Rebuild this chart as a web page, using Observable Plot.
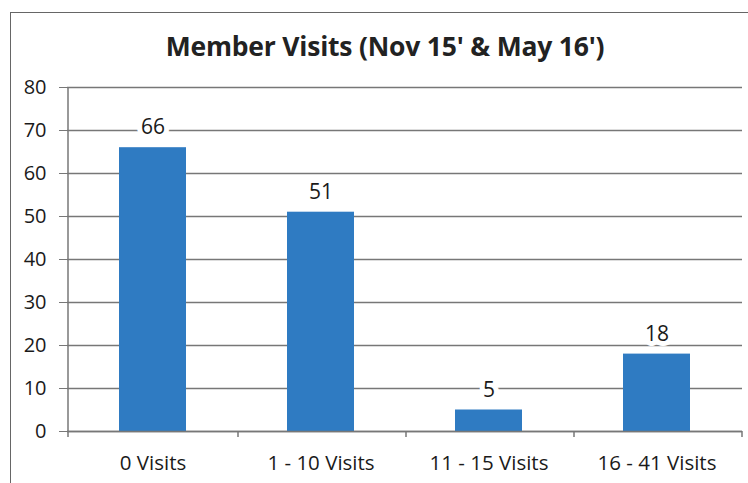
<!DOCTYPE html>
<html>
<head>
<meta charset="utf-8">
<script src="https://cdn.jsdelivr.net/npm/d3@7"></script>
<script src="https://cdn.jsdelivr.net/npm/@observablehq/plot@0.6"></script>
<style>
  html, body { margin: 0; padding: 0; background: #fff; }
  #wrap { position: relative; width: 748px; height: 483px; overflow: hidden; font-family: "Open Sans", sans-serif; }
  #frame { position: absolute; left: 10px; top: 12px; width: 760px; height: 500px; border-left: 1.5px solid #666; border-top: 1.5px solid #666; }
  #title { position: absolute; left: 0; top: 28px; width: 770px; text-align: center; font-weight: 700; font-size: 26.5px; color: #222; letter-spacing: -0.2px; }
  #chart { position: absolute; left: 0; top: 0; }
</style>
</head>
<body>
<div id="wrap">
  <div id="frame"></div>
  <div id="chart"></div>
  <div id="title">Member Visits (Nov 15' &amp; May 16')</div>
</div>
<script>
const categories = ["0 Visits", "1 - 10 Visits", "11 - 15 Visits", "16 - 41 Visits"];
const visits = [66, 51, 5, 18];
const yTicks = [0, 10, 20, 30, 40, 50, 60, 70, 80];

const data = categories.map((c, i) => ({category: c, value: visits[i]}));

const chart = Plot.plot({
  width: 748,
  height: 483,
  marginTop: 87,
  marginBottom: 52,
  marginLeft: 67,
  marginRight: 6,
  style: {fontFamily: "Open Sans, sans-serif", fontSize: "20px", color: "#222", background: "transparent"},
  x: {domain: categories, paddingInner: 0.6, paddingOuter: 0.3, align: 0.5, label: null},
  y: {domain: [0, 80], ticks: yTicks, label: null},
  marks: [
    Plot.gridY(yTicks, {stroke: "#777", strokeOpacity: 1, strokeWidth: 1.3}),
    Plot.barY(data, {x: "category", y: "value", fill: "#2f7bc2"}),
    Plot.text(data, {x: "category", y: "value", text: d => String(d.value), dy: -20, fontSize: 21, fill: "#1a1a1a", stroke: "white", strokeWidth: 10}),
    Plot.ruleY([0], {stroke: "#777", strokeWidth: 1.5}),
    Plot.ruleX([categories[0]], {dx: -85, y1: 0, y2: 80, stroke: "#777", strokeWidth: 1.5}),
    Plot.ruleX(categories, {x: d => d, dx: 85, y1: 0, y2: 0, insetBottom: -6, stroke: "#777", strokeWidth: 1.5}),
    Plot.ruleX([categories[0]], {dx: -85, y1: 0, y2: 0, insetBottom: -6, stroke: "#777", strokeWidth: 1.5}),
    Plot.axisY(yTicks, {tickSize: 8, tickPadding: 13, stroke: "#777", fontSize: 20, fill: "#1a1a1a"}),
    Plot.axisX({tickSize: 0, tickPadding: 24, fontSize: 20.5, fill: "#1a1a1a"})
  ]
});
document.getElementById("chart").appendChild(chart);
</script>
</body>
</html>
